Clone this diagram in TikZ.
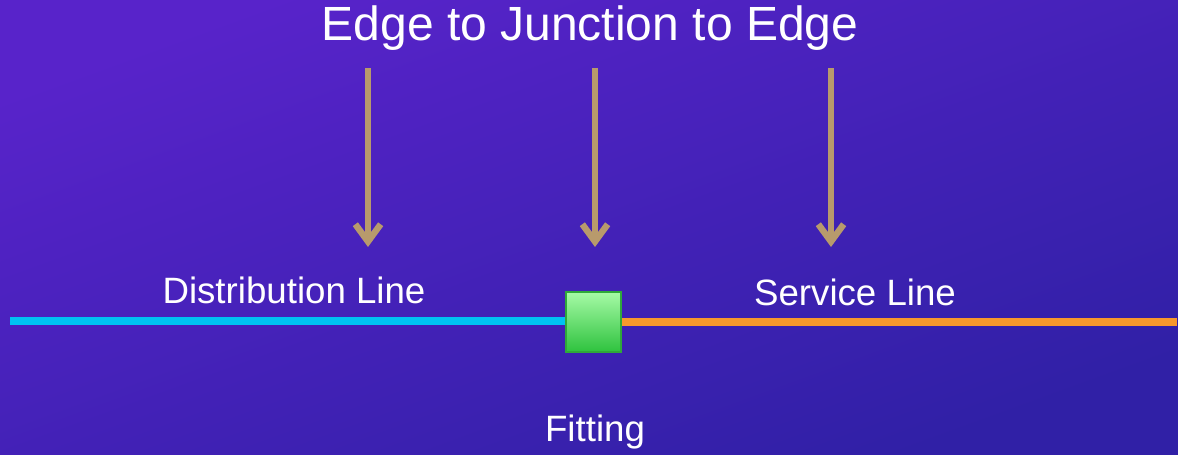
\documentclass[tikz,border=0pt]{standalone}
\usepackage{fontspec}
\setmainfont{Liberation Sans}
\usetikzlibrary{arrows.meta}
\definecolor{bgA}{HTML}{5823CA}
\definecolor{bgB}{HTML}{3020A6}
\definecolor{tan}{HTML}{B89A6C}
\definecolor{cyanl}{HTML}{00C2F2}
\definecolor{orangel}{HTML}{F7982C}
\definecolor{gtop}{HTML}{A6FAA6}
\definecolor{gbot}{HTML}{2EC23E}
\definecolor{gborder}{HTML}{2FA83A}
\tikzset{
  titletext/.style={text=white, font=\fontsize{36}{40}\selectfont, inner sep=0pt},
  labeltext/.style={text=white, font=\fontsize{27.5}{32}\selectfont, inner sep=0pt},
  downarrow/.style={draw=tan, line width=4.8pt, -{Straight Barb[length=13pt, width=19pt]}},
  fitbox/.style={draw=gborder, line width=1.5pt, top color=gtop, bottom color=gbot, minimum width=41.25pt, minimum height=45pt, inner sep=0pt},
  pipeline/.style={line width=6pt},
}
\begin{document}
\begin{tikzpicture}[x=0.75pt,y=-0.75pt]
\path[use as bounding box, shading=axis, top color=bgA, bottom color=bgB, shading angle=20] (0,0) rectangle (1178,454);
\node[titletext] (title) at (590,28) {Edge to Junction to Edge};
\coordinate (a1s) at (368,68); \coordinate (a1e) at (368,247);
\coordinate (a2s) at (595,68); \coordinate (a2e) at (595,247);
\coordinate (a3s) at (831,68); \coordinate (a3e) at (831,247);
\draw[downarrow] (a1s) -- (a1e);
\draw[downarrow] (a2s) -- (a2e);
\draw[downarrow] (a3s) -- (a3e);
\coordinate (dl) at (10,321);
\coordinate (sl) at (1177,322);
\node[fitbox] (fit) at (593.5,322) {};
\draw[pipeline, cyanl] (dl) -- (dl -| fit.west);
\draw[pipeline, orangel] (fit.east |- sl) -- (sl);
\node[labeltext] (dist) at (294,290) {Distribution Line};
\node[labeltext] (serv) at (855,292) {Service Line};
\node[labeltext] (fitlbl) at (595,432) {Fitting};
\end{tikzpicture}
\end{document}
